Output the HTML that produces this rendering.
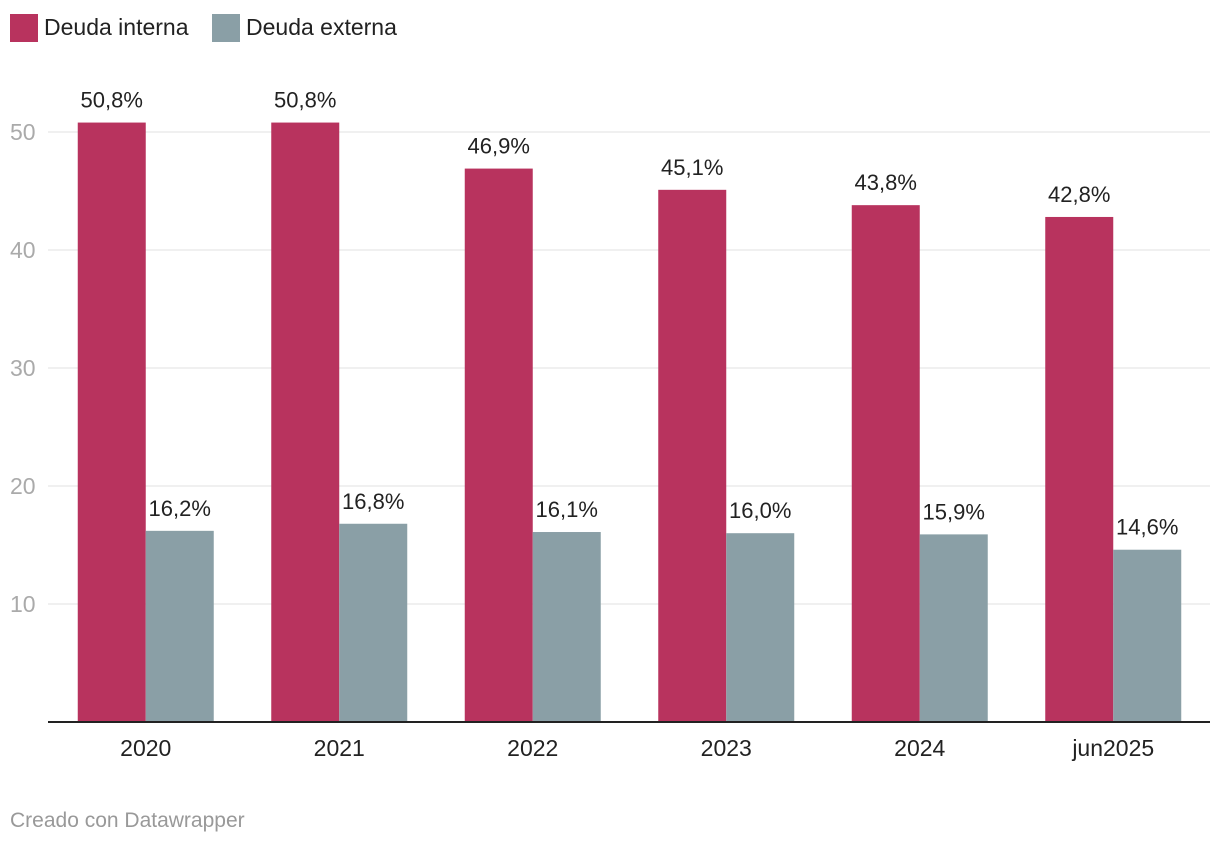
<!DOCTYPE html>
<html><head><meta charset="utf-8">
<style>
body{margin:0;background:#fff;font-family:"Liberation Sans",Roboto,sans-serif;}
svg text{font-family:"Liberation Sans",sans-serif;}
</style></head>
<body>
<svg id="chart" width="1220" height="844" xmlns="http://www.w3.org/2000/svg">
  <g>
    <rect x="10" y="14" width="28" height="28" fill="#b8335e"/>
    <text x="44" y="35" font-size="23" fill="#222">Deuda interna</text>
    <rect x="212" y="14" width="28" height="28" fill="#8a9fa6"/>
    <text x="246" y="35" font-size="23" fill="#222">Deuda externa</text>
  </g>
  <g id="grid"></g>
  <g id="bars"></g>
  <g id="xaxis"></g>
  <text x="10" y="827" font-size="21" fill="#999">Creado con Datawrapper</text>
</svg>
<script>
const categories=["2020","2021","2022","2023","2024","jun2025"];
const interna=[50.8,50.8,46.9,45.1,43.8,42.8];
const externa=[16.2,16.8,16.1,16.0,15.9,14.6];
const yTicks=[10,20,30,40,50];

const NS="http://www.w3.org/2000/svg";
const left=49,right=1210,base=722,pxPerUnit=11.8,barW=68;
const band=(right-left)/categories.length;
function y(v){return base-v*pxPerUnit;}
function xc(i){return left+band*(i+0.5);}
function el(tag,attrs,parent){const e=document.createElementNS(NS,tag);for(const k in attrs)e.setAttribute(k,attrs[k]);parent.appendChild(e);return e;}
const grid=document.getElementById('grid'),bars=document.getElementById('bars'),xa=document.getElementById('xaxis');
yTicks.forEach(t=>{
  const l=el('line',{x1:48,x2:1210,y1:y(t),y2:y(t),stroke:'#e2e2e2','stroke-width':1},grid);
  
  
  const tx=el('text',{x:10,y:y(t)+8,'font-size':23,fill:'#aaa'},grid);
  tx.textContent=t;
  
  
});
const fmt=v=>v.toFixed(1).replace('.',',')+'%';
categories.forEach((c,i)=>{
  const cx=xc(i);
  [[interna[i],cx-barW,'#b8335e','interna'],[externa[i],cx,'#8a9fa6','externa']].forEach(([v,x,col,nm])=>{
    const r=el('rect',{x:x,y:y(v),width:barW,height:base-y(v),fill:col},bars);
    
    
    const t=el('text',{x:x+barW/2,y:y(v)-15,'font-size':22,fill:'#222','text-anchor':'middle'},bars);
    t.textContent=fmt(v);
    
    
  });
  const lt=el('text',{x:cx,y:756,'font-size':23,fill:'#222','text-anchor':'middle'},xa);
  lt.textContent=c;
  
  
});
const ax=el('line',{x1:48,x2:1210,y1:base,y2:base,stroke:'#222','stroke-width':2},xa);


</script>
</body></html>
